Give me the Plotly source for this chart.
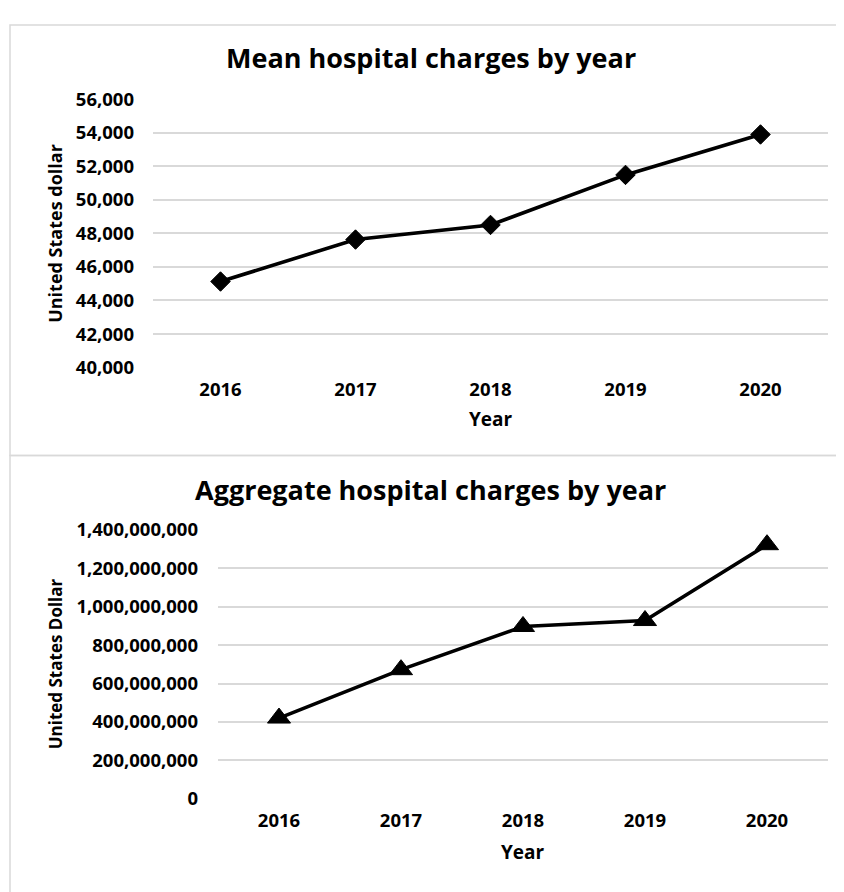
import plotly.graph_objects as go

years = ["2016", "2017", "2018", "2019", "2020"]
mean_charges = [45130, 47630, 48500, 51480, 53890]
aggregate_charges = [420000000, 672000000, 897000000, 928000000, 1323000000]

mean_ticks = [40000, 42000, 44000, 46000, 48000, 50000, 52000, 54000, 56000]
agg_ticks = [0, 200000000, 400000000, 600000000, 800000000, 1000000000,
             1200000000, 1400000000]

# page body has an 8px margin, so the figure is drawn 8px smaller and offset
OFF = 8
W, H = 844 - OFF, 892 - OFF
FONT = "Open Sans"
GRID = "#d9d9d9"

def px(x):
    return (x - OFF) / W

def py(y):
    return 1 - (y - OFF) / H

fig = go.Figure()

fig.add_trace(go.Scatter(
    x=years, y=mean_charges, xaxis="x", yaxis="y",
    mode="lines+markers",
    line=dict(color="black", width=3.6),
    marker=dict(symbol="diamond", size=15, color="black",
                line=dict(color="black", width=1)),
    hoverinfo="skip", showlegend=False,
))
fig.add_trace(go.Scatter(
    x=years, y=aggregate_charges, xaxis="x2", yaxis="y2",
    mode="lines+markers",
    line=dict(color="black", width=3.6),
    marker=dict(symbol="triangle-up", size=20, color="black",
                line=dict(color="black", width=1)),
    hoverinfo="skip", showlegend=False,
))

tickfont = dict(family=FONT, size=18.5, color="black", weight="bold")

fig.update_layout(
    width=W, height=H,
    margin=dict(l=0, r=0, t=0, b=0),
    paper_bgcolor="white", plot_bgcolor="white",
    showlegend=False,
    xaxis=dict(domain=[px(153), px(828)], type="category", range=[-0.5, 4.5],
               showgrid=False, showline=False, zeroline=False, ticks="",
               tickfont=tickfont, ticklabelstandoff=9, anchor="y"),
    yaxis=dict(domain=[py(363.7), py(87.3)], range=[40000, 56000],
               tickvals=mean_ticks, tickformat=",d",
               showgrid=True, gridcolor=GRID, gridwidth=1.5,
               showline=False, zeroline=False, ticks="",
               tickfont=tickfont, ticklabelstandoff=18, anchor="x"),
    xaxis2=dict(domain=[px(218), px(828)], type="category", range=[-0.5, 4.5],
                showgrid=False, showline=False, zeroline=False, ticks="",
                tickfont=tickfont, ticklabelstandoff=9, anchor="y2"),
    yaxis2=dict(domain=[py(807.3), py(530.7)], range=[0, 1400000000],
                tickvals=agg_ticks, tickformat=",d",
                showgrid=True, gridcolor=GRID, gridwidth=1.5,
                showline=False, zeroline=False, ticks="",
                tickfont=tickfont, ticklabelstandoff=19, anchor="x2"),
)

title_font = dict(family=FONT, size=27, color="black", weight="bold")
label_font = dict(family=FONT, size=19, color="black", weight="bold")

annotations = [
    dict(text="Mean hospital charges by year", x=px(431), y=py(45),
         font=title_font),
    dict(text="Aggregate hospital charges by year", x=px(431), y=py(489),
         font=title_font),
    dict(text="Year", x=px(490.5), y=py(417), font=label_font),
    dict(text="Year", x=px(523), y=py(862), font=label_font),
    dict(text="United States dollar", x=px(55), y=py(226), textangle=-90,
         font=dict(family=FONT, size=18, color="black", weight="bold")),
    dict(text="United States Dollar", x=px(55), y=py(669), textangle=-90,
         font=dict(family=FONT, size=17, color="black", weight="bold")),
]
for a in annotations:
    a.update(xref="paper", yref="paper", showarrow=False,
             xanchor="center", yanchor="middle")
fig.update_layout(annotations=annotations)

fig.update_layout(shapes=[
    dict(type="rect", xref="paper", yref="paper",
         x0=px(10), x1=px(870), y0=py(454), y1=py(11),
         line=dict(color=GRID, width=1.5), fillcolor="rgba(0,0,0,0)",
         layer="below"),
    dict(type="rect", xref="paper", yref="paper",
         x0=px(10), x1=px(870), y0=py(920), y1=py(454),
         line=dict(color=GRID, width=1.5), fillcolor="rgba(0,0,0,0)",
         layer="below"),
])

fig.write_html("out.html")
